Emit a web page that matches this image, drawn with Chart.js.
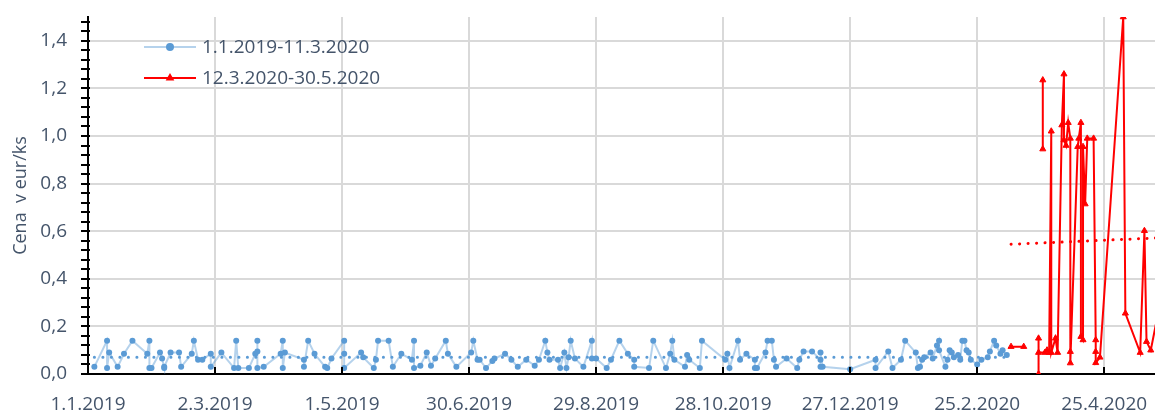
<!DOCTYPE html>
<html lang="sk">
<head>
    <meta charset="UTF-8">
    <title>Cena v eur/ks</title>
    <script src="https://cdn.jsdelivr.net/npm/chart.js"></script>
    <style>
        body {
            margin: 0;
            padding: 0;
            background: white;
        }
        .chart-container {
            width: 1155px;
            height: 416px;
            position: relative;
        }
    </style>
</head>
<body>
    <div class="chart-container">
        <canvas id="priceChart"></canvas>
    </div>

    <script>
        // x values are days counted from 1.1.2019
        const xTickLabels = ['1.1.2019', '2.3.2019', '1.5.2019', '30.6.2019', '29.8.2019',
            '28.10.2019', '27.12.2019', '25.2.2020', '25.4.2020'];

        const blueLabel = '1.1.2019-11.3.2020';
        const redLabel = '12.3.2020-30.5.2020';

        const blueDays = [3, 9, 9, 10, 14, 17, 21, 28, 29, 29, 30, 34, 35, 36, 36, 39, 43, 44, 49, 50,
            52, 54, 58, 58, 63, 69, 70, 71, 76, 79, 80, 80, 80, 83, 91, 92, 92, 93, 102, 102,
            104, 107, 112, 113, 115, 121, 121, 121, 129, 130, 135, 136, 137, 142, 144, 148, 153, 154, 154, 157,
            160, 162, 164, 169, 170, 174, 181, 182, 184, 185, 188, 191, 192, 197, 200, 203, 207, 211, 213, 216,
            217, 218, 222, 223, 225, 226, 227, 228, 230, 234, 238, 238, 240, 245, 247, 251, 255, 258, 258, 265,
            267, 273, 275, 276, 277, 282, 283, 284, 289, 290, 301, 302, 303, 307, 308, 311, 315, 315, 316, 320,
            321, 323, 324, 325, 330, 335, 336, 338, 342, 346, 346, 346, 347, 360, 372, 372, 378, 380, 384, 386,
            391, 392, 393, 394, 395, 398, 399, 401, 402, 402, 405, 406, 407, 408, 409, 411, 412, 413, 414, 415,
            416, 417, 420, 422, 425, 426, 428, 429, 431, 432, 434];
        const blueValues = [0.03, 0.14, 0.025, 0.09, 0.03, 0.085, 0.14, 0.085, 0.14, 0.025, 0.025, 0.09, 0.065, 0.025, 0.03, 0.09, 0.09, 0.03, 0.085, 0.14,
            0.06, 0.06, 0.085, 0.03, 0.09, 0.025, 0.14, 0.025, 0.025, 0.085, 0.095, 0.14, 0.025, 0.03, 0.085, 0.14, 0.025, 0.09, 0.06, 0.03,
            0.14, 0.085, 0.03, 0.025, 0.065, 0.14, 0.085, 0.025, 0.09, 0.07, 0.025, 0.06, 0.14, 0.14, 0.03, 0.085, 0.06, 0.14, 0.025, 0.035,
            0.09, 0.035, 0.065, 0.14, 0.085, 0.03, 0.09, 0.14, 0.06, 0.06, 0.025, 0.055, 0.065, 0.085, 0.06, 0.03, 0.06, 0.035, 0.06, 0.14,
            0.09, 0.06, 0.06, 0.025, 0.09, 0.025, 0.07, 0.14, 0.065, 0.03, 0.14, 0.065, 0.065, 0.025, 0.06, 0.14, 0.085, 0.06, 0.03, 0.025,
            0.14, 0.025, 0.085, 0.14, 0.06, 0.03, 0.08, 0.06, 0.025, 0.14, 0.06, 0.085, 0.025, 0.14, 0.06, 0.085, 0.06, 0.025, 0.025, 0.09,
            0.14, 0.14, 0.06, 0.03, 0.065, 0.025, 0.06, 0.095, 0.095, 0.06, 0.03, 0.09, 0.03, 0.02, 0.06, 0.025, 0.095, 0.025, 0.06, 0.14,
            0.09, 0.025, 0.03, 0.06, 0.07, 0.09, 0.065, 0.12, 0.14, 0.10, 0.03, 0.06, 0.10, 0.09, 0.07, 0.08, 0.06, 0.14, 0.14, 0.10,
            0.09, 0.06, 0.04, 0.06, 0.07, 0.095, 0.14, 0.12, 0.085, 0.10, 0.08];

        // null = break in the line
        const redDays = [436, 442, 446, 451, 451, 451, 449, 449, 449, 452, 453, 454, 455, 455, 457, 458, 460, 461, 461, 462,
            463, 464, 464, 464, 467.5, 468, 469, 469, 470, 470, 471, 472, 475, 476, 476, 476, 478, 489, 490, 497,
            499, 500, 502, 506];
        const redValues = [0.115, 0.115, null, 1.235, 0.945, null, 0.15, 0, 0.09, 0.09, 0.10, 0.09, 1.02, 0.09, 0.15, 0.09, 1.046, 1.26, 0.983, 0.96,
            1.056, 0.99, 0.094, 0.046, 0.955, 0.99, 1.056, 0.157, 0.143, 0.955, 0.714, 0.99, 0.99, 0.143, 0.094, 0.047, 0.07, 1.5, 0.255, 0.09,
            0.602, 0.136, 0.10, 0.28];

        // linear trend lines (end points)
        const blueTrendDays = [3, 434];
        const blueTrendValues = [0.07, 0.07];
        const redTrendDays = [436, 506];
        const redTrendValues = [0.545, 0.572];

        const textColor = '#44546a';
        const blueColor = '#5b9bd5';
        const blueLine = 'rgba(91, 155, 213, 0.45)';
        const redColor = '#ff0000';

        const toPoints = (xs, ys) => xs.map((x, i) => ({ x: x, y: ys[i] }));

        const chartDecor = {
            id: 'chartDecor',
            afterDraw(chart) {
                const ctx = chart.ctx;
                const xs = chart.scales.x;
                const ys = chart.scales.y;
                ctx.save();
                ctx.strokeStyle = '#000';
                ctx.lineWidth = 2;
                // inward tick marks on the date axis
                xs.ticks.forEach(t => {
                    const px = Math.round(xs.getPixelForValue(t.value));
                    ctx.beginPath();
                    ctx.moveTo(px, ys.bottom);
                    ctx.lineTo(px, ys.bottom - 7);
                    ctx.stroke();
                });
                // major + minor tick marks on the price axis
                for (let v = 0; v <= 1.5; v += 0.04) {
                    const py = Math.round(ys.getPixelForValue(v));
                    ctx.beginPath();
                    ctx.moveTo(xs.left - 7, py);
                    ctx.lineTo(xs.left + 2, py);
                    ctx.stroke();
                }

                // legend: line + marker + label
                const items = [
                    { text: blueLabel, line: blueLine, fill: blueColor, style: 'circle', r: 3 },
                    { text: redLabel, line: redColor, fill: redColor, style: 'triangle', r: 3 }
                ];
                ctx.font = '19px "Open Sans", sans-serif';
                ctx.textBaseline = 'middle';
                items.forEach((it, i) => {
                    const y = 47 + i * 31;
                    ctx.strokeStyle = it.line;
                    ctx.lineWidth = 2;
                    ctx.beginPath();
                    ctx.moveTo(144, y);
                    ctx.lineTo(196, y);
                    ctx.stroke();
                    ctx.fillStyle = it.fill;
                    ctx.strokeStyle = it.fill;
                    Chart.helpers.drawPoint(ctx, { pointStyle: it.style, radius: it.r, rotation: 0, borderWidth: 1 }, 170, y);
                    ctx.fillStyle = textColor;
                    ctx.fillText(it.text, 202, y + 1);
                });
                ctx.restore();
            }
        };

        const ctx = document.getElementById('priceChart').getContext('2d');

        const chart = new Chart(ctx, {
            type: 'line',
            data: {
                datasets: [
                    {
                        label: 'trend 1',
                        data: toPoints(blueTrendDays, blueTrendValues),
                        borderColor: blueColor,
                        borderWidth: 3,
                        borderDash: [0.1, 8.4],
                        borderCapStyle: 'round',
                        pointRadius: 0,
                        order: 0
                    },
                    {
                        label: 'trend 2',
                        data: toPoints(redTrendDays, redTrendValues),
                        borderColor: redColor,
                        borderWidth: 3,
                        borderDash: [0.1, 8.4],
                        borderCapStyle: 'round',
                        pointRadius: 0,
                        order: 0
                    },
                    {
                        label: blueLabel,
                        data: toPoints(blueDays, blueValues),
                        borderColor: blueLine,
                        borderWidth: 2,
                        pointStyle: 'circle',
                        pointRadius: 3,
                        pointBorderWidth: 0,
                        pointBackgroundColor: blueColor,
                        tension: 0,
                        order: 2
                    },
                    {
                        label: redLabel,
                        data: toPoints(redDays, redValues),
                        borderColor: redColor,
                        borderWidth: 2,
                        pointStyle: 'triangle',
                        pointRadius: 3.5,
                        pointBorderWidth: 1,
                        pointBackgroundColor: redColor,
                        pointBorderColor: redColor,
                        tension: 0,
                        spanGaps: false,
                        order: 1
                    }
                ]
            },
            options: {
                responsive: true,
                maintainAspectRatio: false,
                animation: false,
                layout: {
                    autoPadding: false,
                    padding: { top: 17, right: 0, bottom: 0, left: 0 }
                },
                plugins: {
                    legend: { display: false },
                    tooltip: { enabled: false }
                },
                scales: {
                    x: {
                        type: 'linear',
                        min: 0,
                        max: 504,
                        grid: { color: '#d9d9d9', lineWidth: 2, drawTicks: false },
                        border: { color: '#000', width: 2 },
                        ticks: {
                            stepSize: 60,
                            includeBounds: false,
                            autoSkip: false,
                            maxRotation: 0,
                            padding: 19,
                            color: textColor,
                            font: { family: '"Open Sans", sans-serif', size: 19 },
                            callback: v => xTickLabels[Math.round(v / 60)]
                        },
                        afterFit: s => {
                            s.height = 42;
                            s.paddingLeft = 0;
                            s.paddingRight = 0;
                        }
                    },
                    y: {
                        min: 0,
                        max: 1.5,
                        grid: { color: '#d9d9d9', lineWidth: 2, drawTicks: false },
                        border: { color: '#000', width: 2 },
                        ticks: {
                            stepSize: 0.2,
                            includeBounds: false,
                            padding: 21,
                            color: textColor,
                            font: { family: '"Open Sans", sans-serif', size: 19 },
                            callback: v => v.toFixed(1).replace('.', ',')
                        },
                        title: {
                            display: true,
                            text: 'Cena  v eur/ks',
                            color: textColor,
                            font: { family: '"Open Sans", sans-serif', size: 18 },
                            padding: { top: 10, bottom: 0 }
                        },
                        afterFit: s => {
                            s.width = 88;
                            s.paddingTop = 0;
                            s.paddingBottom = 0;
                        }
                    }
                }
            },
            plugins: [chartDecor]
        });
    </script>
</body>
</html>
